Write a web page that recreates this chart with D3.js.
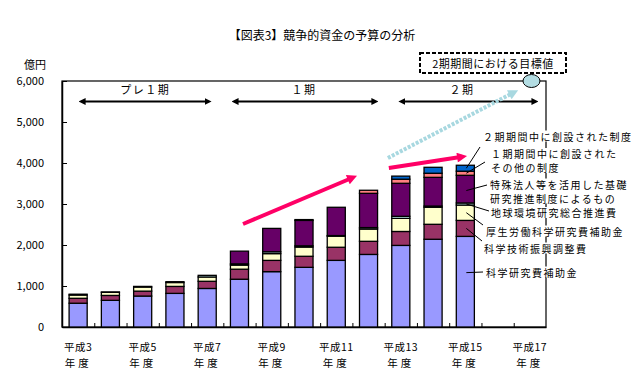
<!DOCTYPE html>
<html>
<head>
<meta charset="utf-8">
<script src="https://cdn.jsdelivr.net/npm/d3@7"></script>
<style>
  body { margin: 0; background: #fff; }
  text { font-family: "Noto Sans CJK JP", sans-serif; fill: #000; }
</style>
</head>
<body>
<svg id="chart" width="643" height="371"></svg>
<script>
// 平成3年度〜平成17年度 (data through 平成15)
const years = d3.range(3, 18)
const tickYears = [3, 5, 7, 9, 11, 13, 15, 17]
const yTicks = [0, 1000, 2000, 3000, 4000, 5000, 6000]

// 億円
const kakenhi = [580, 650, 755, 820, 940, 1165, 1350, 1455, 1625, 1770, 1990, 2140, 2210]
const shinko  = [120, 120, 120, 170, 175, 245, 275, 270, 320, 320, 340, 365, 390]
const kosei   = [80, 75, 100, 95, 105, 100, 165, 225, 270, 300, 320, 415, 375]
const chikyu  = [20, 10, 15, 20, 40, 30, 45, 30, 15, 35, 50, 30, 50]
const tokushu = [0, 0, 0, 0, 0, 310, 570, 620, 690, 835, 805, 700, 675]
const sonota1 = [0, 0, 0, 0, 0, 0, 0, 20, 0, 75, 100, 100, 100]
const seido2  = [0, 0, 0, 0, 0, 0, 0, 0, 0, 0, 75, 145, 145]

const seriesKeys = ['kakenhi', 'shinko', 'kosei', 'chikyu', 'tokushu', 'sonota1', 'seido2']
const seriesColors = {
    kakenhi: '#9999FF', shinko: '#993366', kosei: '#FFFFCC', chikyu: '#CCFFFF',
    tokushu: '#660066', sonota1: '#FF8080', seido2: '#0066CC'
}
const seriesData = { kakenhi, shinko, kosei, chikyu, tokushu, sonota1, seido2 }

const rows = kakenhi.map((v, i) => {
    const r = { year: 3 + i }
    seriesKeys.forEach(k => r[k] = seriesData[k][i])
    return r
})

const svg = d3.select('#chart')
const marginL = 62, marginR = 97, marginT = 81, marginB = 44
const W = 643, H = 371

const x = d3.scaleBand()
    .domain(years)
    .range([marginL, W - marginR])
    .paddingInner(0.44)
    .paddingOuter(0.22)
// continuous year scale for annotations
const xYear = d3.scaleLinear().domain([2.5, 17.5]).range([marginL, W - marginR])
const y = d3.scaleLinear().domain([0, 6000]).range([H - marginB, marginT])

// frame
svg.append('rect')
    .attr('x', marginL).attr('y', marginT)
    .attr('width', W - marginR - marginL).attr('height', H - marginB - marginT)
    .attr('fill', 'none').attr('stroke', '#000').attr('stroke-width', 1.2)

// title
svg.append('text')
    .attr('x', 322).attr('y', 40)
    .attr('text-anchor', 'middle')
    .style('font-size', '12px')
    .text('【図表3】競争的資金の予算の分析')

svg.append('text')
    .attr('x', 46).attr('y', 69)
    .attr('text-anchor', 'end')
    .style('font-size', '11px')
    .text('億円')

// y axis
svg.append('g')
    .attr('transform', `translate(${marginL},0)`)
    .call(d3.axisLeft(y).tickValues(yTicks).tickFormat(d3.format(',')).tickSizeInner(-5).tickSizeOuter(0).tickPadding(18))
    .call(g => g.select('.domain').attr('stroke-width', 1.5))
    .call(g => g.selectAll('text').style('font-size', '11px').style('font-family', '"Noto Sans CJK JP", sans-serif'))

// x axis (ticks on category boundaries)
const xIdx = d3.scaleLinear().domain([0, years.length]).range([marginL, W - marginR])
svg.append('g')
    .attr('transform', `translate(0,${H - marginB})`)
    .call(d3.axisBottom(xIdx).tickValues(d3.range(1, years.length)).tickSizeInner(-4).tickSizeOuter(0).tickFormat(''))
    .call(g => g.select('.domain').attr('stroke-width', 1.5))

const xl = svg.append('g').selectAll('g')
    .data(tickYears)
    .join('g')
    .attr('transform', d => `translate(${x(d) + x.bandwidth() / 2},0)`)
xl.append('text').attr('y', 351).attr('text-anchor', 'middle').style('font-size', '10.5px').style('letter-spacing', '0.5px').text(d => '平成' + d)
xl.append('text').attr('y', 367).attr('text-anchor', 'middle').style('font-size', '10.5px').style('letter-spacing', '3px').text('年度')

// stacked bars
const stacked = d3.stack().keys(seriesKeys)(rows)
svg.append('g')
    .selectAll('g')
    .data(stacked)
    .join('g')
    .attr('fill', d => seriesColors[d.key])
    .selectAll('rect')
    .data(d => d.filter(s => s[1] - s[0] > 0))
    .join('rect')
    .attr('x', d => x(d.data.year))
    .attr('width', x.bandwidth())
    .attr('y', d => y(d[1]))
    .attr('height', d => y(d[0]) - y(d[1]))
    .attr('stroke', '#000')
    .attr('stroke-width', 1.3)

// arrow heads
const defs = svg.append('defs')
function marker(id, color, w, h) {
    defs.append('marker')
        .attr('id', id)
        .attr('viewBox', '0 0 10 10')
        .attr('refX', 5).attr('refY', 5)
        .attr('markerUnits', 'userSpaceOnUse')
        .attr('markerWidth', w).attr('markerHeight', h)
        .attr('orient', 'auto-start-reverse')
        .append('path')
        .attr('d', 'M0,0 L10,5 L0,10 Z')
        .attr('fill', color)
}
marker('headBlack', '#000', 7, 7)
marker('headPink', '#FF0066', 11, 10)
marker('headBlue', '#A8D8E0', 11, 10)

// period arrows
const periods = [
    { label: 'プレ１期', from: 3.03, to: 7.12, mid: 5.08 },
    { label: '１期', from: 7.77, to: 12.29, mid: 10.0 },
    { label: '２期', from: 12.94, to: 17.25, mid: 14.9 }
]
const pg = svg.append('g').selectAll('g').data(periods).join('g')
pg.append('line')
    .attr('x1', d => xYear(d.from) + 3).attr('x2', d => xYear(d.to) - 3)
    .attr('y1', y(5500)).attr('y2', y(5500))
    .attr('stroke', '#000').attr('stroke-width', 2)
    .attr('marker-start', 'url(#headBlack)')
    .attr('marker-end', 'url(#headBlack)')
pg.append('text')
    .attr('x', d => xYear(d.mid)).attr('y', y(5800))
    .attr('text-anchor', 'middle').attr('dominant-baseline', 'central')
    .style('font-size', '11px').style('letter-spacing', '1.5px')
    .text(d => d.label)

// trend arrows
const trends = [
    { x1: 8.11, y1: 2512, x2: 11.5, y2: 3640, color: '#FF0066', marker: 'headPink', dash: null },
    { x1: 12.63, y1: 3878, x2: 14.9, y2: 4150, color: '#FF0066', marker: 'headPink', dash: null },
    { x1: 12.6, y1: 4122, x2: 16.5, y2: 5720, color: '#A8D8E0', marker: 'headBlue', dash: '3,1.5' }
]
svg.append('g').selectAll('line').data(trends).join('line')
    .attr('x1', d => xYear(d.x1)).attr('y1', d => y(d.y1))
    .attr('x2', d => xYear(d.x2)).attr('y2', d => y(d.y2))
    .attr('stroke', d => d.color).attr('stroke-width', 4)
    .attr('stroke-dasharray', d => d.dash)
    .attr('marker-end', d => `url(#${d.marker})`)

// target marker
svg.append('ellipse')
    .attr('cx', xYear(17.05)).attr('cy', y(6000))
    .attr('rx', 8.5).attr('ry', 6.5)
    .attr('fill', '#B3DDE3').attr('stroke', '#000').attr('stroke-width', 1)

svg.append('rect')
    .attr('x', 420).attr('y', 53).attr('width', 146).attr('height', 20)
    .attr('fill', '#fff').attr('stroke', '#000').attr('stroke-width', 2)
    .attr('stroke-dasharray', '4,2')
svg.append('text')
    .attr('x', 493).attr('y', 63).attr('text-anchor', 'middle').attr('dominant-baseline', 'central')
    .style('font-size', '11px').style('letter-spacing', '0.5px')
    .text('2期期間における目標値')

// labels with leader lines (anchored on the 平成15 bar)
const lastIdx = rows.length - 1
const labelData = [
    { key: 'seido2', lines: ['２期期間中に創設された制度'], tx: 483, ty: 136, lx: 480, ly: 147, at: 0.5 },
    { key: 'sonota1', lines: ['１期期間中に創設された', 'その他の制度'], tx: 491, ty: 153.5, lx: 485, ly: 162, at: 0.5 },
    { key: 'tokushu', lines: ['特殊法人等を活用した基礎', '研究推進制度によるもの'], tx: 490, ty: 184, lx: 487, ly: 185, at: 0.45 },
    { key: 'chikyu', lines: ['地球環境研究総合推進費'], tx: 491, ty: 212.5, lx: 489, ly: 211, at: 0.5 },
    { key: 'kosei', lines: ['厚生労働科学研究費補助金'], tx: 486, ty: 231, lx: 483, ly: 225, at: 0.5 },
    { key: 'shinko', lines: ['科学技術振興調整費'], tx: 484, ty: 248, lx: 482, ly: 241, at: 0.5 },
    { key: 'kakenhi', lines: ['科学研究費補助金'], tx: 486, ty: 272, lx: 483, ly: 272, at: 0.6 }
]
const bx = x(years[lastIdx]) + x.bandwidth() / 2 + 1
const lg = svg.append('g')
labelData.forEach(d => {
    const seg = stacked.find(s => s.key === d.key)[lastIdx]
    const vy = y(seg[0] + (seg[1] - seg[0]) * d.at)
    lg.append('line')
        .attr('x1', bx).attr('y1', vy).attr('x2', d.lx).attr('y2', d.ly)
        .attr('stroke', '#000').attr('stroke-width', 1)
    const bgr = lg.append('rect').attr('fill', '#fff')
    const t = lg.append('text')
        .style('font-size', '10px').style('letter-spacing', '1.5px')
    d.lines.forEach((ln, i) => {
        t.append('tspan')
            .attr('x', d.tx).attr('y', d.ty + i * 14)
            .attr('dominant-baseline', 'central')
            .text(ln)
    })
    const bb = t.node().getBBox()
    // tight white background so the frame line does not cross the text
    bgr.attr('x', bb.x - 1).attr('y', bb.y + 2).attr('width', bb.width + 2).attr('height', bb.height - 4)
})
</script>
</body>
</html>
